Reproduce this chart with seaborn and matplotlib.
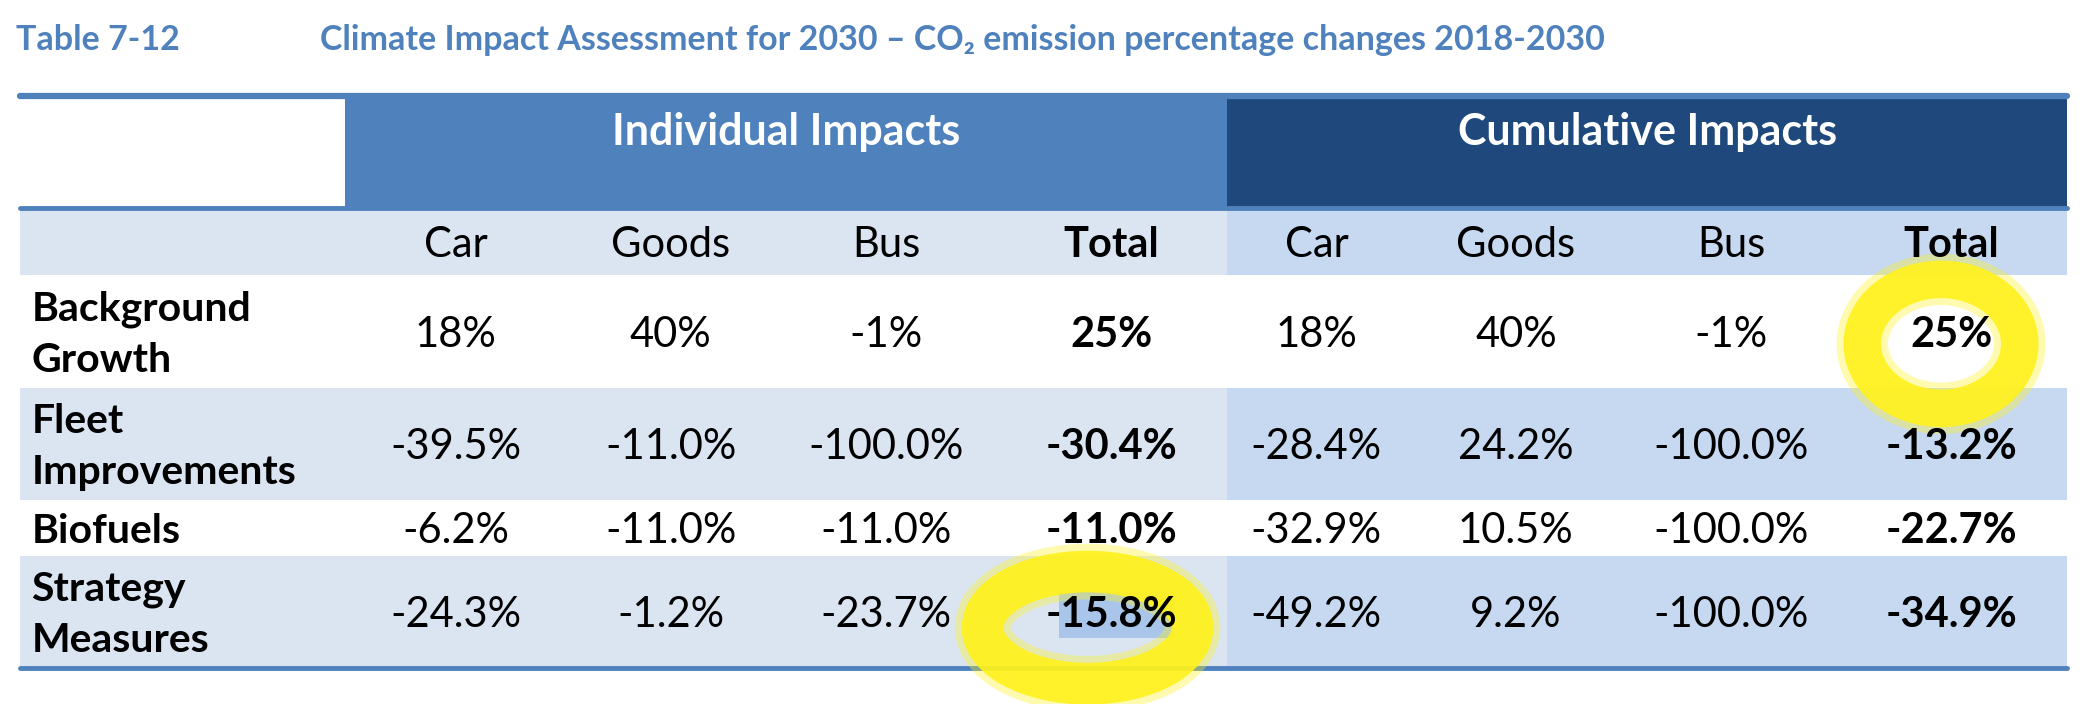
"""
Climate Impact Assessment table (Table 7-12) redrawn with seaborn.
"""

import matplotlib.pyplot as plt
import numpy as np
import seaborn as sns
from matplotlib.colors import ListedColormap
from matplotlib.patches import Ellipse, Rectangle

# ──────────────────────────────────────────────────────────────
# Data
# ──────────────────────────────────────────────────────────────

table_number = "Table 7-12"
table_title = "Climate Impact Assessment for 2030 – CO₂ emission percentage changes 2018-2030"

groups = ["Individual Impacts", "Cumulative Impacts"]
modes = ["Car", "Goods", "Bus", "Total"]
row_labels = ["Background\nGrowth", "Fleet\nImprovements", "Biofuels", "Strategy\nMeasures"]

individual_car = [18, -39.5, -6.2, -24.3]
individual_goods = [40, -11.0, -11.0, -1.2]
individual_bus = [-1, -100.0, -11.0, -23.7]
individual_total = [25, -30.4, -11.0, -15.8]

cumulative_car = [18, -28.4, -32.9, -49.2]
cumulative_goods = [40, 24.2, 10.5, 9.2]
cumulative_bus = [-1, -100.0, -100.0, -100.0]
cumulative_total = [25, -13.2, -22.7, -34.9]

# cells circled in yellow on the original: (row, column)
highlighted = [(0, 7), (3, 3)]

# ──────────────────────────────────────────────────────────────
# Style
# ──────────────────────────────────────────────────────────────

sns.set_theme(style="white")
plt.rcParams["font.family"] = ["Lato", "DejaVu Sans"]

BLUE = "#4F81BD"
NAVY = "#1F497D"
LIGHT = "#DBE5F1"
MID = "#C6D9F1"
colors = ListedColormap(["white", BLUE, NAVY, LIGHT, MID])

values = np.array([
    individual_car, individual_goods, individual_bus, individual_total,
    cumulative_car, cumulative_goods, cumulative_bus, cumulative_total,
]).T

# grid units: column widths (label, 4 individual, 4 cumulative), row heights
col_units = [31, 21, 20, 21, 22, 17, 21, 20, 22]
row_units = [10, 6, 10, 10, 5, 10]
col_edges = np.concatenate([[0], np.cumsum(col_units)])
row_edges = np.concatenate([[0], np.cumsum(row_units)])
n_cols, n_rows = col_edges[-1], row_edges[-1]
split = col_edges[5]

codes = np.zeros((n_rows, n_cols), dtype=int)
codes[row_edges[0]:row_edges[1], col_edges[1]:split] = 1
codes[row_edges[0]:row_edges[1], split:] = 2
codes[row_edges[1]:row_edges[2], :split] = 3
codes[row_edges[1]:row_edges[2], split:] = 4
for i in range(len(row_labels)):
    if i % 2 == 1:
        codes[row_edges[i + 2]:row_edges[i + 3], :split] = 3
        codes[row_edges[i + 2]:row_edges[i + 3], split:] = 4

# ──────────────────────────────────────────────────────────────
# Figure
# ──────────────────────────────────────────────────────────────

W, H = 2094, 704
fig = plt.figure(figsize=(W / 100, H / 100), dpi=100)
ax = fig.add_axes([20 / W, 1 - 668 / H, 2047 / W, 572 / H])

sns.heatmap(
    codes, cmap=colors, vmin=-0.5, vmax=4.5, cbar=False, ax=ax,
    xticklabels=False, yticklabels=False,
)
ax.set_xlim(0, n_cols)
ax.set_ylim(n_rows, 0)


def col_center(j):
    return (col_edges[j + 1] + col_edges[j + 2]) / 2


def row_center(i):
    return (row_edges[i + 2] + row_edges[i + 3]) / 2 + 0.3


# border lines
for yy, lw in [(0, 4.5), (row_edges[1], 3.5), (n_rows, 3.5)]:
    ax.axhline(yy, color=BLUE, lw=lw, zorder=3, clip_on=False)

# group headers
for g, name in enumerate(groups):
    xc = (col_edges[1 + 4 * g] + col_edges[5 + 4 * g]) / 2
    ax.text(xc, 3.2, name, ha="center", va="center", color="white",
            fontsize=31, fontweight="bold", zorder=6)

# sub headers
for g in range(len(groups)):
    for m, mode in enumerate(modes):
        j = g * len(modes) + m
        ax.text(col_center(j), (row_edges[1] + row_edges[2]) / 2 + 0.3, mode,
                ha="center", va="center", fontsize=30, color="black",
                fontweight="bold" if mode == "Total" else "normal", zorder=6)

# body
for i, label in enumerate(row_labels):
    yc = row_center(i)
    ax.text(1.1, yc, label, ha="left", va="center", fontsize=29.5,
            fontweight="bold", color="black", linespacing=1.48, zorder=6)
    for j in range(values.shape[1]):
        v = values[i, j]
        txt = f"{v:.0f}%" if i == 0 else f"{v:.1f}%"
        bold = modes[j % len(modes)] == "Total"
        ax.text(col_center(j), yc, txt, ha="center", va="center",
                fontsize=30, color="black",
                fontweight="bold" if bold else "normal", zorder=6)

# text selection shading behind "-15.8%"
r, c = highlighted[1]
ax.add_patch(Rectangle((col_center(c) - 5.0, row_center(r) - 2.1), 11.0, 4.1,
                       color="#A9C5EA", zorder=3.5, lw=0))

# yellow hand-drawn circles
rings = [(-1.0, 0.8, 15.0, 11.5, 27), (-2.3, 1.1, 20.0, 10.0, 30)]
for (r, c), (dx, dy, w, h, lw) in zip(highlighted, rings):
    for extra, alpha in [(10, 0.35), (0, 0.9)]:
        ax.add_patch(Ellipse((col_center(c) + dx, row_center(r) + dy), w, h,
                             fill=False, ec="#FFF21C", lw=lw + extra,
                             alpha=alpha, zorder=5, clip_on=False))

# caption
fig.text(16 / W, 1 - 40 / H, table_number, ha="left", va="center",
         color=BLUE, fontsize=24.5, fontweight="bold")
fig.text(320 / W, 1 - 40 / H, table_title, ha="left", va="center",
         color=BLUE, fontsize=24.5, fontweight="bold")

fig.savefig("out.png", dpi=100, facecolor="white")
